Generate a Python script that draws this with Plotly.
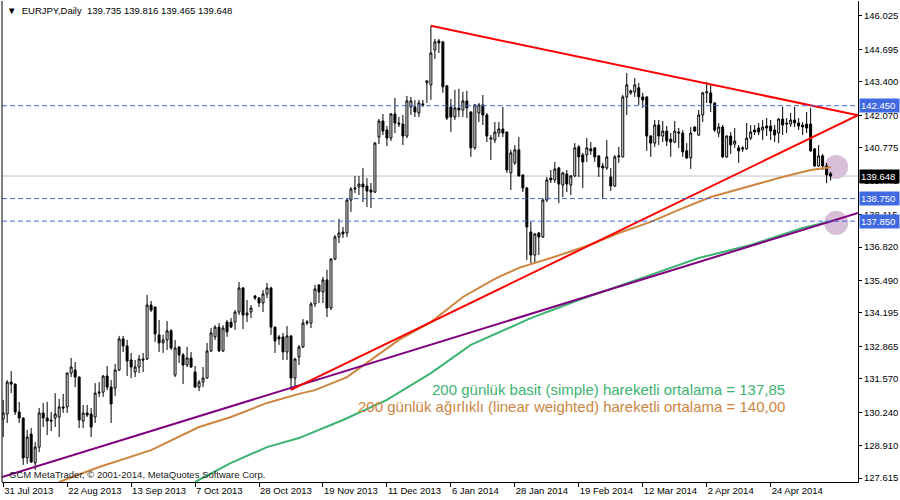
import plotly.graph_objects as go

# ---------------- data ----------------
bars = list(range(208))
opens = [
129.97, 130.17, 131.44, 131.36, 130.25, 130.01, 128.42, 129.37, 128.22, 128.85,
130.21, 130.01, 129.93, 130.01, 130.05, 130.45, 130.45, 131.80, 131.92, 131.64,
129.89, 130.21, 130.17, 130.05, 131.00, 131.04, 131.68, 131.24, 131.20, 131.92,
133.16, 132.88, 132.32, 131.84, 132.04, 132.36, 132.36, 134.51, 134.43, 133.32,
133.00, 133.12, 133.48, 131.72, 132.84, 132.52, 132.12, 132.40, 131.84, 131.24,
131.44, 131.60, 132.68, 133.24, 133.63, 132.68, 133.83, 133.83, 133.83, 134.23,
135.19, 134.11, 134.23, 134.87, 134.79, 134.59, 134.95, 135.19, 133.63, 133.24,
133.24, 132.64, 133.28, 131.60, 132.44, 132.84, 133.79, 133.79, 134.55, 135.31,
135.03, 135.51, 134.39, 136.34, 137.22, 137.42, 137.38, 138.69, 139.13, 139.21,
139.33, 139.25, 139.09, 139.01, 141.20, 141.84, 141.48, 141.16, 142.12, 141.76,
141.72, 141.24, 142.40, 142.40, 142.16, 142.52, 143.36, 143.28, 144.67, 145.03,
144.99, 143.24, 142.40, 142.00, 142.36, 142.28, 142.64, 142.20, 140.77, 142.16,
142.48, 142.08, 141.12, 141.08, 141.36, 141.52, 141.40, 139.77, 140.17, 140.69,
139.69, 139.17, 137.42, 136.50, 137.38, 137.22, 138.69, 139.57, 139.49, 139.97,
139.29, 139.73, 139.29, 139.65, 140.81, 140.49, 140.49, 140.73, 140.77, 140.45,
140.05, 139.97, 139.61, 139.25, 140.41, 140.41, 142.80, 142.96, 143.00, 143.16,
142.80, 142.80, 141.24, 140.96, 141.68, 141.24, 141.44, 141.12, 141.00, 141.40,
141.36, 140.65, 140.37, 141.60, 141.28, 142.08, 142.96, 142.96, 142.56, 141.36,
141.60, 140.41, 141.24, 140.92, 140.77, 140.77, 140.73, 141.16, 141.48, 141.56,
141.48, 141.64, 141.64, 141.48, 141.36, 141.92, 141.76, 141.72, 141.88, 141.76,
141.68, 141.72, 141.72, 140.73, 140.05, 140.45, 140.05, 139.735]
highs = [
130.73, 131.52, 131.88, 131.38, 130.65, 130.03, 129.53, 129.61, 129.05, 130.41,
130.61, 130.65, 130.25, 131.00, 130.77, 130.97, 131.82, 132.40, 132.24, 131.66,
130.53, 130.53, 130.41, 131.40, 131.44, 131.72, 132.08, 131.52, 132.16, 133.28,
133.28, 133.12, 132.60, 132.32, 132.52, 132.60, 134.91, 134.67, 134.45, 133.91,
133.32, 133.87, 133.55, 133.12, 132.86, 132.60, 132.84, 132.64, 132.08, 131.52,
132.04, 133.00, 133.59, 133.71, 133.79, 133.71, 133.91, 133.99, 134.31, 135.43,
135.23, 134.71, 134.51, 134.91, 134.83, 135.11, 135.39, 135.23, 133.65, 133.32,
133.40, 133.67, 133.30, 132.40, 132.92, 133.95, 133.91, 134.63, 135.31, 135.33,
135.63, 135.91, 136.38, 137.30, 137.94, 137.62, 138.73, 139.21, 139.65, 139.65,
139.97, 139.57, 139.37, 141.00, 141.92, 142.12, 141.64, 142.16, 142.76, 142.00,
142.08, 142.84, 142.80, 142.68, 142.68, 142.68, 143.45, 145.63, 145.11, 145.11,
145.03, 143.26, 142.72, 143.08, 143.12, 143.00, 143.04, 142.22, 142.52, 142.56,
142.88, 142.16, 141.28, 141.80, 141.80, 142.40, 141.42, 140.69, 140.88, 141.20,
139.71, 139.21, 137.82, 137.38, 137.42, 138.77, 139.61, 139.89, 140.21, 140.01,
139.81, 139.89, 139.69, 140.96, 140.88, 140.57, 141.16, 141.00, 140.79, 140.49,
140.17, 141.08, 139.97, 140.49, 140.81, 142.88, 143.75, 143.08, 143.55, 143.36,
142.96, 142.82, 141.28, 141.88, 141.88, 141.84, 141.64, 141.36, 141.84, 141.56,
141.48, 140.96, 141.60, 141.62, 142.28, 143.00, 143.40, 143.28, 142.58, 141.76,
141.68, 141.28, 141.40, 141.56, 140.88, 140.84, 141.76, 141.68, 141.68, 141.76,
141.88, 141.96, 141.88, 141.68, 141.96, 142.40, 141.96, 142.16, 142.40, 141.96,
141.80, 142.20, 142.36, 140.75, 140.88, 140.53, 140.17, 139.816]
lows = [
129.25, 129.81, 131.00, 130.13, 129.81, 128.14, 128.18, 128.22, 127.94, 128.65,
129.65, 129.33, 129.49, 129.65, 129.25, 130.21, 130.21, 131.64, 131.24, 129.61,
129.61, 130.05, 129.25, 129.81, 130.85, 130.85, 131.12, 129.81, 130.89, 131.88,
132.64, 131.68, 131.60, 131.64, 131.80, 131.84, 132.32, 134.23, 133.04, 132.64,
132.60, 132.72, 132.72, 131.64, 132.20, 131.36, 132.04, 132.00, 131.22, 131.08,
131.24, 131.58, 132.64, 133.12, 132.64, 132.64, 133.24, 133.59, 133.52, 134.11,
133.55, 133.83, 133.99, 134.71, 134.43, 134.23, 134.79, 133.32, 132.60, 132.92,
132.32, 132.32, 131.13, 131.24, 132.12, 132.80, 133.71, 133.59, 134.43, 134.59,
134.59, 134.03, 134.31, 136.30, 136.98, 137.18, 137.22, 138.22, 138.97, 138.89,
138.61, 138.41, 138.37, 138.97, 140.92, 141.28, 140.84, 141.04, 141.36, 141.60,
140.88, 141.16, 142.08, 142.00, 142.00, 142.40, 142.56, 142.68, 144.31, 144.55,
142.96, 141.88, 141.40, 141.88, 142.00, 142.00, 141.96, 140.41, 140.69, 141.80,
141.68, 141.00, 140.29, 140.96, 141.20, 141.20, 139.77, 139.09, 140.09, 139.63,
139.01, 136.30, 136.18, 136.18, 136.50, 137.18, 138.61, 139.37, 139.37, 138.57,
138.81, 139.01, 138.89, 139.61, 139.61, 139.17, 140.21, 140.49, 140.21, 139.61,
138.73, 139.89, 139.05, 139.21, 140.17, 140.39, 142.08, 142.88, 142.80, 142.48,
142.36, 140.65, 140.41, 140.81, 140.88, 141.00, 140.84, 140.41, 140.96, 140.77,
140.41, 140.33, 139.93, 141.40, 141.24, 141.80, 142.56, 142.20, 141.40, 141.20,
140.37, 140.37, 140.53, 140.77, 140.17, 140.61, 140.69, 141.08, 141.28, 141.28,
141.08, 141.24, 141.08, 141.00, 140.96, 141.28, 141.36, 141.60, 141.60, 141.48,
141.28, 141.36, 140.61, 140.01, 140.01, 139.89, 139.37, 139.465]
closes = [
130.21, 131.44, 131.36, 130.25, 130.01, 128.42, 129.25, 128.26, 128.85, 130.21,
130.01, 129.89, 129.89, 130.17, 130.45, 130.41, 131.80, 132.04, 131.64, 129.93,
130.21, 130.13, 129.65, 131.00, 131.04, 131.68, 131.24, 130.57, 131.92, 133.16,
132.88, 132.28, 132.04, 132.04, 132.36, 132.32, 134.51, 134.31, 133.36, 133.00,
133.12, 133.48, 132.80, 132.80, 132.52, 132.12, 132.40, 132.04, 131.24, 131.44,
131.60, 132.68, 133.40, 133.63, 132.68, 133.59, 133.44, 133.63, 134.23, 135.19,
134.11, 134.19, 134.39, 134.79, 134.59, 134.95, 135.19, 133.63, 133.08, 133.16,
132.64, 133.28, 131.60, 132.36, 132.84, 133.79, 133.83, 134.55, 135.15, 135.03,
135.51, 134.39, 136.34, 137.22, 137.38, 137.34, 138.69, 139.13, 139.17, 139.33,
139.21, 139.05, 139.01, 140.96, 141.84, 141.44, 141.16, 142.12, 141.76, 141.72,
141.24, 142.64, 142.64, 142.20, 142.56, 142.48, 143.44, 144.55, 144.99, 144.95,
143.20, 141.96, 142.00, 142.36, 142.28, 142.64, 142.36, 140.77, 142.48, 142.48,
142.08, 141.24, 141.16, 141.40, 141.52, 141.36, 139.89, 140.57, 140.69, 139.65,
139.17, 137.62, 136.50, 137.34, 137.22, 138.69, 139.49, 139.49, 139.93, 139.33,
139.77, 139.33, 139.65, 140.77, 140.41, 140.21, 140.77, 140.65, 140.41, 140.01,
139.97, 140.41, 139.25, 140.41, 140.45, 142.80, 143.28, 143.04, 143.28, 142.80,
142.68, 141.24, 140.96, 141.68, 141.24, 141.44, 141.04, 141.00, 141.44, 141.36,
140.61, 140.37, 141.36, 141.44, 142.08, 142.96, 143.00, 142.56, 141.48, 141.60,
140.41, 141.24, 140.88, 141.04, 140.65, 140.73, 141.16, 141.40, 141.40, 141.40,
141.60, 141.56, 141.44, 141.28, 141.92, 141.68, 141.72, 141.88, 141.76, 141.64,
141.60, 141.56, 140.65, 140.05, 140.45, 140.05, 139.69, 139.648]

x_tick_bars = [0, 16, 32, 48, 64, 80, 96, 112, 128, 144, 160, 176, 192]
x_tick_labels = ["31 Jul 2013", "22 Aug 2013", "13 Sep 2013", "7 Oct 2013", "28 Oct 2013",
                 "19 Nov 2013", "11 Dec 2013", "6 Jan 2014", "28 Jan 2014", "19 Feb 2014",
                 "12 Mar 2014", "2 Apr 2014", "24 Apr 2014"]
y_tick_values = [146.025, 144.695, 143.400, 142.070, 140.775, 139.445, 138.115, 136.820,
                 135.490, 134.195, 132.865, 131.570, 130.240, 128.910, 127.615]
y_tick_labels = ["%.3f" % v for v in y_tick_values]

# 200-period moving averages (read at sample bars)
wma_bars = [14, 24, 37, 49, 57, 66, 74, 78, 86, 92, 99, 107, 115, 123, 129, 137, 146, 154, 162,
            169, 177, 186, 194, 202, 207]
wma_values = [127.46, 128.06, 128.73, 129.65, 130.05, 130.61, 130.97, 131.12, 131.64, 132.32,
              133.12, 133.83, 134.83, 135.55, 135.99, 136.38, 136.86, 137.38, 137.82, 138.30,
              138.81, 139.21, 139.57, 139.89, 140.00]
sma_bars = [48, 57, 66, 74, 85, 96, 107, 117, 132, 144, 162, 174, 187, 200, 207]
sma_values = [127.46, 128.22, 128.85, 129.21, 129.93, 130.73, 131.80, 132.92, 133.99, 134.71,
              135.71, 136.38, 136.90, 137.58, 137.85]

# trend lines
red_desc_bars = [107, 213.85]
red_desc_prices = [145.63, 142.07]
red_asc_bars = [72, 213.85]
red_asc_prices = [131.13, 142.07]
purple_bars = [-0.3, 213.85]
purple_prices = [127.66, 138.18]

# horizontal levels
blue_levels = [142.450, 138.750, 137.850]
bid_level = 139.648

# highlight circles
circle_bars = [208.4, 208.4]
circle_prices = [140.01, 137.78]

FONT = "Liberation Sans"
BLUE = "#4169e1"
RED = "#ff0000"
PURPLE = "#800080"
PERU = "#cd853f"
GREEN = "#3cb371"
FS = 9.5

fig = go.Figure()

fig.add_trace(go.Candlestick(
    x=bars, open=opens, high=highs, low=lows, close=closes,
    increasing=dict(line=dict(color="black", width=1), fillcolor="white"),
    decreasing=dict(line=dict(color="black", width=1), fillcolor="black"),
    whiskerwidth=0, showlegend=False, hoverinfo="skip"))

fig.add_trace(go.Scatter(x=wma_bars, y=wma_values, mode="lines",
                         line=dict(color=PERU, width=2), showlegend=False, hoverinfo="skip"))
fig.add_trace(go.Scatter(x=sma_bars, y=sma_values, mode="lines",
                         line=dict(color=GREEN, width=2), showlegend=False, hoverinfo="skip"))
fig.add_trace(go.Scatter(x=purple_bars, y=purple_prices, mode="lines",
                         line=dict(color=PURPLE, width=2), showlegend=False, hoverinfo="skip"))
fig.add_trace(go.Scatter(x=red_asc_bars, y=red_asc_prices, mode="lines",
                         line=dict(color=RED, width=2), showlegend=False, hoverinfo="skip"))
fig.add_trace(go.Scatter(x=red_desc_bars, y=red_desc_prices, mode="lines",
                         line=dict(color=RED, width=2), showlegend=False, hoverinfo="skip"))

shapes = []
for cb, cp in zip(circle_bars, circle_prices):
    shapes.append(dict(type="circle", xref="x", yref="y", x0=cb - 3, x1=cb + 3,
                       y0=cp - 0.48, y1=cp + 0.48, fillcolor="#d8bfd8",
                       line=dict(width=0), layer="below"))
for lv in blue_levels:
    shapes.append(dict(type="line", xref="paper", yref="y", x0=0, x1=1, y0=lv, y1=lv,
                       line=dict(color=BLUE, width=1, dash="5px,3px")))
shapes.append(dict(type="line", xref="paper", yref="y", x0=0, x1=1, y0=bid_level, y1=bid_level,
                   line=dict(color="#c0c0c0", width=1), layer="below"))
# left frame line
shapes.append(dict(type="line", xref="paper", yref="paper", x0=0, x1=0, y0=0, y1=1,
                   line=dict(color="black", width=1)))

annotations = []
for lv in blue_levels:
    annotations.append(dict(xref="paper", yref="y", x=1, y=lv, xanchor="left", yanchor="middle",
                            xshift=1, text="%.3f" % lv, showarrow=False, bgcolor=BLUE,
                            font=dict(family=FONT, size=FS, color="white"), borderpad=1,
                            width=37, align="left"))
annotations.append(dict(xref="paper", yref="y", x=1, y=bid_level, xanchor="left",
                        yanchor="middle", xshift=1, text="%.3f" % bid_level, showarrow=False,
                        bgcolor="black", font=dict(family=FONT, size=FS, color="white"),
                        borderpad=1, width=37, align="left"))
annotations.append(dict(xref="paper", yref="paper", x=0, y=1, xanchor="left", yanchor="top",
                        xshift=3, yshift=-2,
                        text="▼  EURJPY,Daily  139.735 139.816 139.465 139.648",
                        showarrow=False, font=dict(family=FONT, size=FS, color="black")))
annotations.append(dict(xref="paper", yref="paper", x=0, y=0, xanchor="left", yanchor="bottom",
                        xshift=5, yshift=0,
                        text="GCM MetaTrader, © 2001-2014, MetaQuotes Software Corp.",
                        showarrow=False, font=dict(family=FONT, size=FS, color="#202020")))
annotations.append(dict(xref="paper", yref="paper", x=0.917, y=0.193, xanchor="right",
                        yanchor="middle",
                        text="200 günlük basit (simple) hareketli ortalama = 137,85",
                        showarrow=False, font=dict(family=FONT, size=15, color=GREEN)))
annotations.append(dict(xref="paper", yref="paper", x=0.917, y=0.158, xanchor="right",
                        yanchor="middle",
                        text="200 günlük ağırlıklı (linear weighted) hareketli ortalama = 140,00",
                        showarrow=False, font=dict(family=FONT, size=15, color=PERU)))

fig.update_layout(
    width=900, height=500,
    margin=dict(l=2, r=42, t=1, b=18),
    paper_bgcolor="white", plot_bgcolor="white",
    font=dict(family=FONT, size=FS, color="black"),
    shapes=shapes, annotations=annotations,
    showlegend=False,
    xaxis=dict(range=[-0.3, 213.85], rangeslider=dict(visible=False),
               tickvals=x_tick_bars, ticktext=x_tick_labels, tickangle=0,
               ticks="outside", ticklen=4, tickcolor="black", tickwidth=1,
               ticklabelposition="outside right",
               showgrid=False, zeroline=False, showline=True, linecolor="black", linewidth=1,
               tickfont=dict(family=FONT, size=FS, color="black")),
    yaxis=dict(range=[127.46, 146.62], side="right",
               tickvals=y_tick_values, ticktext=y_tick_labels,
               ticks="outside", ticklen=3, tickcolor="black", tickwidth=1,
               showgrid=False, zeroline=False, showline=True, linecolor="black", linewidth=1,
               tickfont=dict(family=FONT, size=FS, color="black")),
)

fig.write_html("out.html", config={"displayModeBar": False},
               post_script="document.body.style.margin='0';document.body.style.overflow='hidden';")
